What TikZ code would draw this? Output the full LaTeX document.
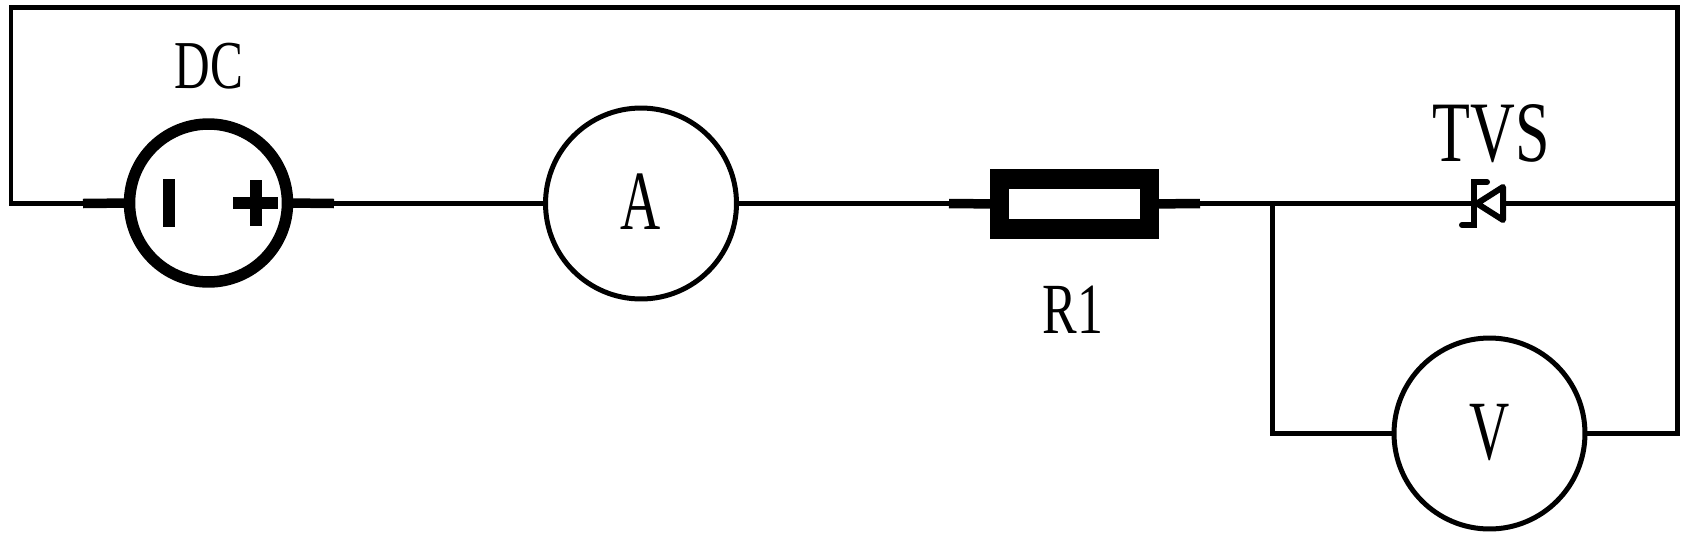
\documentclass[tikz,border=0pt]{standalone}
\usepackage{fontspec}
\setmainfont[FakeStretch=0.72]{Liberation Serif}
\newfontfamily\narrowserif[FakeStretch=0.66]{Liberation Serif}
\tikzset{
  wire/.style={line width=.1cm, line join=miter},
  stub/.style={line width=.19cm},
  meter/.style={draw, circle, line width=.1cm, minimum size=3.82cm, inner sep=0pt, outer sep=0pt, font=\narrowserif\fontsize{48}{48}\selectfont},
  source/.style={draw, circle, line width=.23cm, minimum size=3.16cm, inner sep=0pt, outer sep=0pt},
  fuse/.style={draw, rectangle, line width=.39cm, minimum width=3.01cm, minimum height=1cm, inner sep=0pt, outer sep=0pt},
  sign/.style={fill=black, inner sep=0pt, outer sep=0pt}
}
\begin{document}
\begin{tikzpicture}[x=.02cm, y=-.02cm]
  \useasboundingbox (0,0) rectangle (1694,538);
  % components
  \node[source] (dc) at (208.5,203) {};
  \node[meter] (ammeter) at (641,203.5) {\raisebox{.06cm}{A}};
  \node[fuse] (rone) at (1074.5,204) {};
  \node[meter] (voltmeter) at (1489.5,433.5) {\raisebox{.08cm}{V}};
  \node[inner sep=0pt, minimum width=.54cm, minimum height=.1cm] (tvs) at (1490,203.5) {};
  % labels
  \node[font=\fontsize{39}{39}\selectfont] (dclabel) at (209,66) {DC};
  \node[font=\fontsize{41}{41}\selectfont] (rlabel) at (1073,310) {R1};
  \node[font=\fontsize{49}{49}\selectfont] (tvslabel) at (1491,134) {TVS};
  % signs of the source
  \node[sign, minimum width=.24cm, minimum height=.96cm] (minus) at (169,203) {};
  \node[sign, minimum width=.92cm, minimum height=.24cm] (plush) at (255.5,203) {};
  \node[sign, minimum width=.24cm, minimum height=.92cm] (plusv) at (255.5,203) {};
  % corners and stub ends
  \coordinate (dcleft) at (83,203.5);
  \coordinate (dcright) at (334,203.5);
  \coordinate (rleft) at (949,203.5);
  \coordinate (rright) at (1200,203.5);
  \coordinate (tl) at (11,7.5);
  \coordinate (tr) at (1677,7.5);
  \coordinate (bl) at (11,203.5);
  \coordinate (br) at (1677,203.5);
  \coordinate (vr) at (1677,433.5);
  \coordinate (jn) at (1272.5,203.5);
  \coordinate (vl) at (1272.5,433.5);
  % wiring
  \draw[stub] (dc.west) -- (dcleft);
  \draw[stub] (dc.east) -- (dcright);
  \draw[stub] (rone.west) -- (rleft);
  \draw[stub] (rone.east) -- (rright);
  \draw[wire] (dcleft) -- (bl) -- (tl) -- (tr) -- (vr) -- (voltmeter.east);
  \draw[wire] (dcright) -- (ammeter.west);
  \draw[wire] (ammeter.east) -- (rleft);
  \draw[wire] (rright) -- (tvs.west);
  \draw[wire] (tvs.east) -- (br);
  \draw[wire] (jn) -- (vl) -- (voltmeter.west);
  % diode
  \draw[wire, line width=.12cm, line join=round] (1503,187) -- (1503,220) -- (1477,203.5) -- cycle;
  \draw[wire, line width=.12cm, line cap=round] (1487,182) -- (1474,182) -- (1474,225) -- (1462,225);
\end{tikzpicture}
\end{document}
